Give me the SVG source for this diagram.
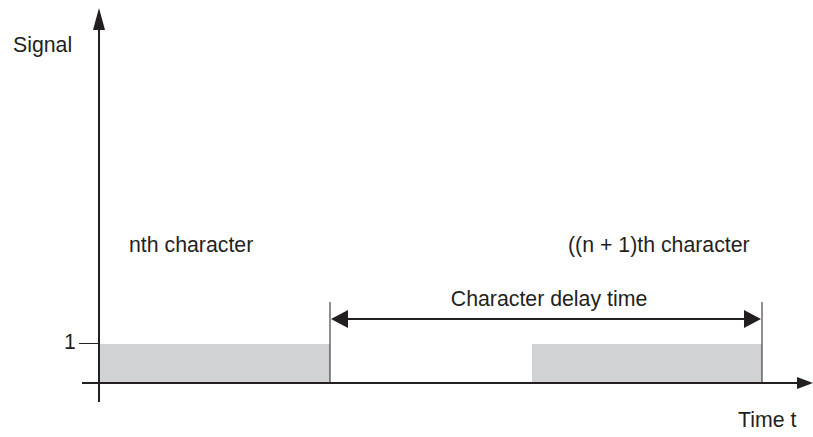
<svg xmlns="http://www.w3.org/2000/svg" width="813" height="437" viewBox="0 0 813 437">
<style>
text{font-family:"Liberation Sans",Arial,sans-serif;font-size:21.3px;fill:#231f20}
.ax{stroke:#231f20;stroke-width:2;fill:none}
.thin{stroke:#231f20;stroke-width:1;fill:none}
.bar{fill:#d1d2d4}
</style>
<g id="bars">
<rect class="bar" x="100" y="344" width="230" height="39"/>
<rect class="bar" x="532" y="344" width="230" height="39"/>
</g>
<g id="connectors">
<line class="ax" x1="99" y1="402" x2="99" y2="28"/>
<path d="M99,8 L105,30 L93,30 Z" fill="#231f20"/>
<line class="ax" x1="82" y1="383" x2="798" y2="383"/>
<path d="M813,383 L797,377 L797,389 Z" fill="#231f20"/>
<line class="thin" x1="79" y1="343.5" x2="99" y2="343.5"/>
<line class="thin" x1="330" y1="302" x2="330" y2="383"/>
<line class="thin" x1="762" y1="302" x2="762" y2="383"/>
<line class="ax" x1="346" y1="319" x2="746" y2="319"/>
<path d="M331,319 L348,310 L348,328 Z" fill="#231f20"/>
<path d="M761,319 L744,310 L744,328 Z" fill="#231f20"/>
</g>
<g id="labels">
<text x="13" y="52">Signal</text>
<text x="64" y="349">1</text>
<text x="129" y="252">nth character</text>
<text x="568" y="252">((n + 1)th character</text>
<text x="549" y="306" text-anchor="middle">Character delay time</text>
<text x="738" y="427">Time t</text>
</g>
</svg>
